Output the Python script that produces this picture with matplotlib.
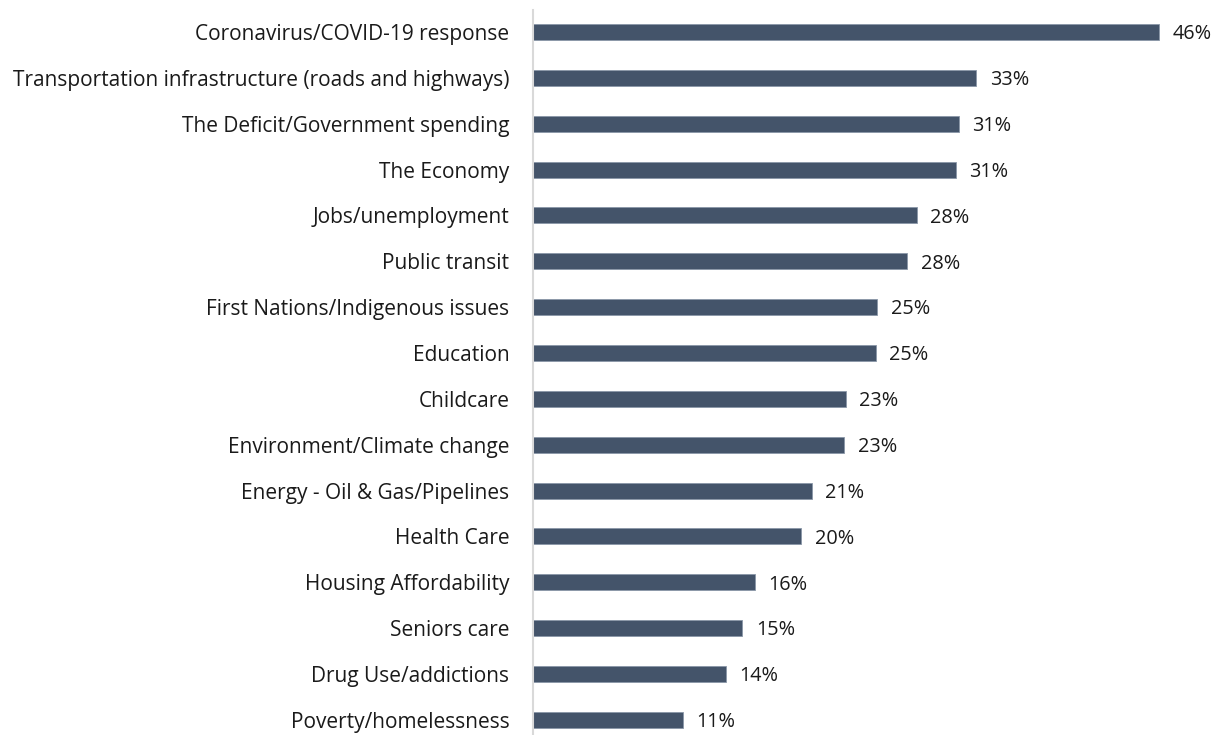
import matplotlib.pyplot as plt

categories = [
    "Coronavirus/COVID-19 response",
    "Transportation infrastructure (roads and highways)",
    "The Deficit/Government spending",
    "The Economy",
    "Jobs/unemployment",
    "Public transit",
    "First Nations/Indigenous issues",
    "Education",
    "Childcare",
    "Environment/Climate change",
    "Energy - Oil & Gas/Pipelines",
    "Health Care",
    "Housing Affordability",
    "Seniors care",
    "Drug Use/addictions",
    "Poverty/homelessness",
]
values = [46.0, 32.6, 31.3, 31.1, 28.2, 27.5, 25.3, 25.2, 23.0, 22.9, 20.5, 19.7, 16.3, 15.4, 14.2, 11.0]
value_labels = ["46%", "33%", "31%", "31%", "28%", "28%", "25%", "25%", "23%", "23%",
                "21%", "20%", "16%", "15%", "14%", "11%"]

plt.rcParams['font.family'] = ['Open Sans', 'DejaVu Sans']

fig = plt.figure(figsize=(12.2, 7.35), dpi=100)
ax = fig.add_axes([533 / 1220, 0, 680 / 1220, 1 - 10 / 735])

n = len(categories)
ypos = [n - 1 - i for i in range(n)]
ax.barh(ypos, values, height=0.35, color='#44546A', edgecolor='#8A97A8', linewidth=0.6)

# etiquetas de valor
for y, v, lab in zip(ypos, values, value_labels):
    ax.text(v + 1.0, y - 0.05, lab, va='center', ha='left', fontsize=14.3, color='#1a1a1a')

ax.set_xlim(0, 50)
ax.set_ylim(-0.33, n - 1 + 0.48)
ax.set_yticks(ypos)
ax.set_yticklabels(categories, fontsize=15, color='#1a1a1a')
ax.tick_params(axis='y', length=0, pad=17)
ax.set_xticks([])

for s in ['top', 'right', 'bottom']:
    ax.spines[s].set_visible(False)
ax.spines['left'].set_color('#D9D9D9')
ax.spines['left'].set_linewidth(1.5)

fig.savefig('out.png', dpi=100)
